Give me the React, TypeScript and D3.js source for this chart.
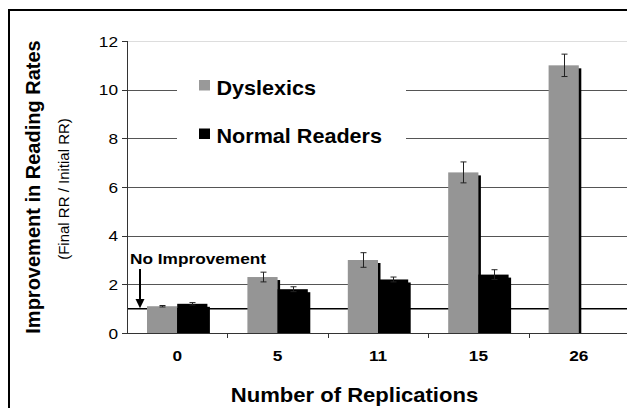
import React from 'react';
import * as d3 from 'd3';

// values
const replications = ['0', '5', '11', '15', '26'];
const seriesNames = ['Dyslexics', 'Normal Readers'];
const dyslexics = [1.1, 2.3, 3.0, 6.6, 11.0];
const dyslexicsErr = [0.03, 0.2, 0.3, 0.43, 0.46];
const normalReaders = [1.2, 1.8, 2.2, 2.4, null];
const normalErr = [0.05, 0.1, 0.1, 0.2, null];
const yTicks = [0, 2, 4, 6, 8, 10, 12];
const noImprovement = 1;

const W = 627;
const H = 408;
const margin = { left: 127, right: -2, top: 41, bottom: 75 };
const colors = ['#959595', '#000000'];
const font = "'Liberation Sans', Arial, sans-serif";

const App = () => {
  const x = d3.scaleBand<string>()
    .domain(replications)
    .range([margin.left, W - margin.right]);
  const bw = x.bandwidth();
  // two bars per group, 20px free on each side
  const xs = d3.scaleBand<string>()
    .domain(seriesNames)
    .range([20, bw - 20]);
  const y = d3.scaleLinear()
    .domain([0, 12])
    .range([H - margin.bottom, margin.top]);

  const series = [
    { name: seriesNames[0], values: dyslexics, err: dyslexicsErr, color: colors[0] },
    { name: seriesNames[1], values: normalReaders, err: normalErr, color: colors[1] },
  ];

  const y0 = y(0);
  const x0 = margin.left;
  const x1 = W - margin.right;
  const midY = (margin.top + y0) / 2;

  return (
    <svg width={W} height={H} style={{ position: 'absolute', left: 0, top: 0, fontFamily: font }}>
      <rect x={0} y={0} width={W} height={H} fill="#fff" />
      {/* outer frame */}
      <rect x={9} y={10} width={720} height={500} fill="none" stroke="#000" strokeWidth={2} />

      {/* gridlines */}
      {yTicks.filter(t => t > 0).map(t => (
        <line key={t} x1={x0} x2={x1} y1={Math.round(y(t)) + 0.5} y2={Math.round(y(t)) + 0.5}
          stroke={t === 12 ? '#dddddd' : '#555'} strokeWidth={1} />
      ))}

      {/* legend, white box cuts the gridlines */}
      <rect x={177} y={55} width={229} height={110} fill="#fff" />
      {series.map((s, i) => (
        <g key={s.name}>
          <rect x={199} y={80 + i * 48.5} width={11} height={10.5} fill={i === 0 ? '#999' : '#000'} />
          <g transform={`translate(216.5, ${95 + i * 48.3}) scale(1.08,1)`}>
            <text fontSize={20} fontWeight="bold" fill="#000">{s.name}</text>
          </g>
        </g>
      ))}

      {/* no improvement line */}
      <line x1={x0} x2={x1} y1={y(noImprovement)} y2={y(noImprovement)} stroke="#000" strokeWidth={1.5} />

      {/* bars with shadow */}
      {series.map(s => (
        <g key={s.name}>
          {replications.map((c, i) => {
            const v = s.values[i];
            if (v == null) return null;
            const bx = (x(c) as number) + (xs(s.name) as number);
            const by = y(v);
            return (
              <g key={c}>
                <rect x={bx + 2.5} y={by + 3} width={xs.bandwidth()} height={y0 - by - 3} fill="#000" />
                <rect x={bx} y={by} width={xs.bandwidth()} height={y0 - by} fill={s.color} />
              </g>
            );
          })}
        </g>
      ))}

      {/* error bars */}
      {series.map(s => (
        <g key={s.name} stroke="#222" strokeWidth={1}>
          {replications.map((c, i) => {
            const v = s.values[i];
            const e = s.err[i];
            if (v == null || e == null) return null;
            const cx = Math.round((x(c) as number) + (xs(s.name) as number) + xs.bandwidth() / 2) + 0.5;
            const yt = y(v + e);
            const yb = y(v - e);
            return (
              <g key={c}>
                <line x1={cx} x2={cx} y1={yt} y2={yb} />
                <line x1={cx - 3} x2={cx + 3} y1={yt} y2={yt} />
                <line x1={cx - 3} x2={cx + 3} y1={yb} y2={yb} />
              </g>
            );
          })}
        </g>
      ))}

      {/* axes */}
      <line x1={x0 + 0.5} x2={x0 + 0.5} y1={margin.top} y2={y0} stroke="#333" strokeWidth={1} />
      <line x1={x0} x2={x1} y1={y0 + 0.5} y2={y0 + 0.5} stroke="#333" strokeWidth={1} />
      {yTicks.map(t => (
        <g key={t}>
          <line x1={x0 - 5} x2={x0} y1={Math.round(y(t)) + 0.5} y2={Math.round(y(t)) + 0.5} stroke="#333" />
          <g transform={`translate(118, ${y(t) + 5.5}) scale(1.15,1)`}>
            <text fontSize={15} textAnchor="end" fill="#000">{t}</text>
          </g>
        </g>
      ))}
      {replications.map((c, i) => (
        <g key={c}>
          {i > 0 && (
            <line x1={Math.round(x(c) as number) + 0.5} x2={Math.round(x(c) as number) + 0.5}
              y1={y0} y2={y0 + 5} stroke="#333" />
          )}
          <g transform={`translate(${(x(c) as number) + bw / 2}, 361) scale(1.15,1)`}>
            <text fontSize={15} fontWeight="bold" textAnchor="middle" fill="#000">{c}</text>
          </g>
        </g>
      ))}

      {/* annotation */}
      <g transform="translate(130, 263.5) scale(1.15,1)">
        <text fontSize={15} fontWeight="bold" fill="#000">No Improvement</text>
      </g>
      <line x1={140} x2={140} y1={269} y2={300} stroke="#000" strokeWidth={2} />
      <path d={`M135.5,299 L144.5,299 L140,${y(noImprovement) - 0.5} Z`} fill="#000" />

      {/* axis titles */}
      <g transform="translate(354.5, 401.5) scale(1.05,1)">
        <text fontSize={21} fontWeight="bold" textAnchor="middle" fill="#000">Number of Replications</text>
      </g>
      <text transform={`translate(40, ${midY}) rotate(-90)`} fontSize={20} fontWeight="bold"
        textAnchor="middle" fill="#000">Improvement in Reading Rates</text>
      <text transform={`translate(69, ${midY + 2}) rotate(-90)`} fontSize={15}
        textAnchor="middle" fill="#000">(Final RR / Initial RR)</text>
    </svg>
  );
};

export default App;
